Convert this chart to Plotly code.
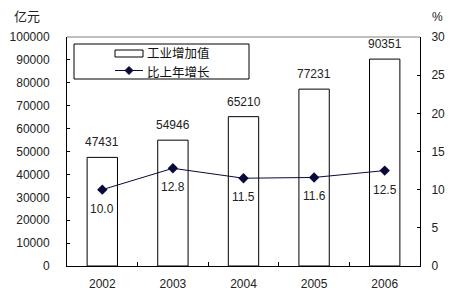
import plotly.graph_objects as go

years = ["2002", "2003", "2004", "2005", "2006"]
value_added = [47431, 54946, 65210, 77231, 90351]
growth = [10.0, 12.8, 11.5, 11.6, 12.5]
growth_labels = ["10.0", "12.8", "11.5", "11.6", "12.5"]
bar_name = "工业增加值"
line_name = "比上年增长"

W, H = 461, 300
L, R, T, B = 67, 420, 37, 266
FONT = "Liberation Sans, Arial, Noto Sans CJK SC"
CJK = "Noto Sans CJK SC, Liberation Sans"


def px(x):
    return (x - L) / (R - L)


def py(y):
    return (B - y) / (B - T)


fig = go.Figure()
fig.add_trace(go.Bar(
    x=years, y=value_added, width=0.43,
    marker=dict(color="white", line=dict(color="black", width=1)),
    showlegend=False, yaxis="y"))
fig.add_trace(go.Scatter(
    x=years, y=growth, mode="lines+markers", yaxis="y2",
    line=dict(color="#0a0a3a", width=1),
    marker=dict(symbol="diamond", size=8, color="#0a0a3a"),
    showlegend=False))

ann = []
for i, v in enumerate(value_added):
    ann.append(dict(x=i, y=v, xref="x", yref="y", text=str(v), showarrow=False,
                    yanchor="bottom", yshift=6, font=dict(size=12, color="#222", family=FONT)))
for i, (g, t) in enumerate(zip(growth, growth_labels)):
    ann.append(dict(x=i, y=g, xref="x", yref="y2", text=t, showarrow=False,
                    yanchor="top", yshift=-10, font=dict(size=12, color="#222", family=FONT)))
# unit labels
ann.append(dict(x=px(27), y=py(15), xref="paper", yref="paper", text="亿元", showarrow=False,
                xanchor="center", yanchor="middle", font=dict(size=13, color="#222", family=CJK)))
ann.append(dict(x=px(437), y=py(17), xref="paper", yref="paper", text="%", showarrow=False,
                xanchor="center", yanchor="middle", font=dict(size=12, color="#222", family=FONT)))
# legend texts
ann.append(dict(x=px(145), y=py(52.5), xref="paper", yref="paper", text=bar_name, showarrow=False,
                xanchor="left", yanchor="middle", font=dict(size=12.5, color="#111", family=CJK)))
ann.append(dict(x=px(145), y=py(71), xref="paper", yref="paper", text=line_name, showarrow=False,
                xanchor="left", yanchor="middle", font=dict(size=12.5, color="#111", family=CJK)))

shapes = [
    # top border
    dict(type="line", xref="paper", yref="paper", x0=0, x1=1, y0=1, y1=1,
         line=dict(color="#808080", width=1)),
    # legend box
    dict(type="rect", xref="paper", yref="paper", x0=px(74), x1=px(249), y0=py(79), y1=py(44),
         line=dict(color="black", width=1), fillcolor="white"),
    # bar icon
    dict(type="rect", xref="paper", yref="paper", x0=px(115), x1=px(143), y0=py(57), y1=py(50),
         line=dict(color="black", width=1), fillcolor="white"),
    # line icon
    dict(type="line", xref="paper", yref="paper", x0=px(115), x1=px(143), y0=py(70.5), y1=py(70.5),
         line=dict(color="#0a0a3a", width=1)),
    # diamond icon
    dict(type="path", xref="paper", yref="paper",
         path=f"M {px(129)} {py(66.5)} L {px(133)} {py(70.5)} L {px(129)} {py(74.5)} L {px(125)} {py(70.5)} Z",
         line=dict(color="#0a0a3a", width=1), fillcolor="#0a0a3a"),
]

fig.update_layout(
    width=W, height=H,
    margin=dict(l=L, r=W - R, t=T, b=H - B, autoexpand=False),
    paper_bgcolor="white", plot_bgcolor="white",
    font=dict(family=FONT, size=12, color="#222"),
    showlegend=False,
    xaxis=dict(type="category", categoryorder="array", categoryarray=years,
               range=[-0.5, 4.5], autorange=False, automargin=False,
               showline=True, linecolor="black", linewidth=1,
               ticks="inside", ticklen=4, tickcolor="black", tickson="boundaries",
               showgrid=False, ticklabelstandoff=7, tickangle=0,
               tickfont=dict(size=12, color="#222", family=FONT)),
    yaxis=dict(range=[0, 100000], dtick=10000, tickformat="d", autorange=False, automargin=False,
               showline=True, linecolor="black", linewidth=1,
               ticks="inside", ticklen=3, tickcolor="black",
               showgrid=False, zeroline=False, ticklabelstandoff=14,
               tickfont=dict(size=12, color="#222", family=FONT)),
    yaxis2=dict(range=[0, 30], dtick=5, overlaying="y", side="right", autorange=False, automargin=False,
                showline=True, linecolor="black", linewidth=1,
                ticks="inside", ticklen=3, tickcolor="black",
                showgrid=False, zeroline=False, ticklabelstandoff=8,
                tickfont=dict(size=12, color="#222", family=FONT)),
    annotations=ann, shapes=shapes,
)

fig.write_html("out.html")
